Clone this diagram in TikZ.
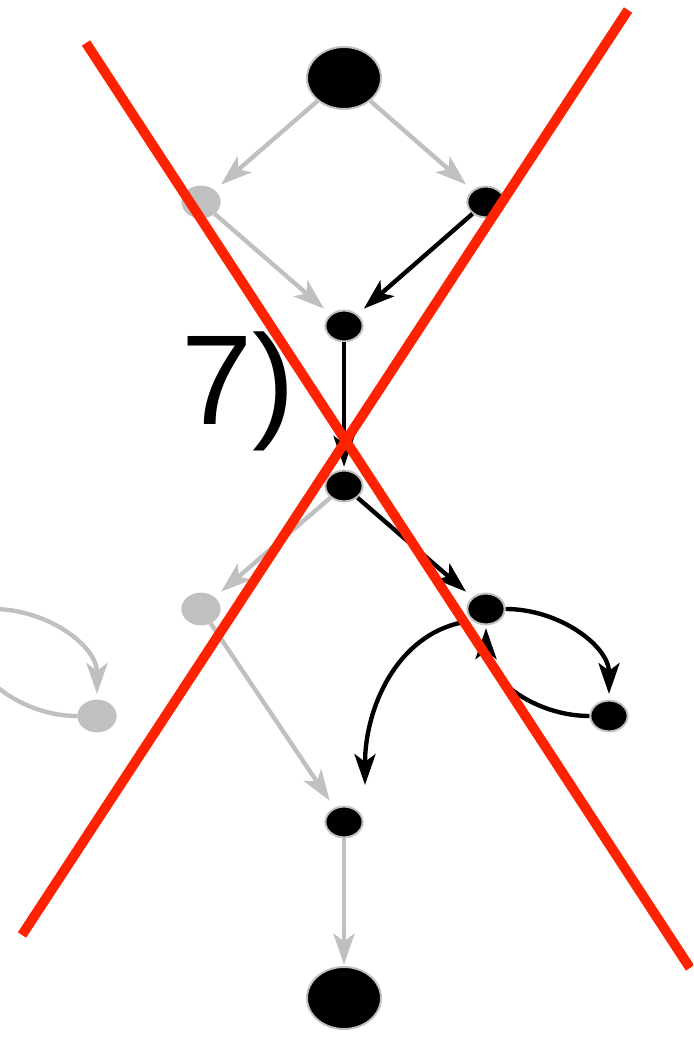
\documentclass[tikz,border=0pt]{standalone}
\usepackage{fontspec}
\setmainfont{Liberation Sans}
\usetikzlibrary{calc, positioning, arrows.meta, shapes.geometric}
\definecolor{dimgrey}{HTML}{C0C0C0}
\definecolor{crossred}{HTML}{FF2200}

\begin{document}
\begin{tikzpicture}[
    x=0.025cm, y=0.025cm,
    dot/.style={
      ellipse, draw=dimgrey, line width=1.4pt,
      fill=black, inner sep=0pt,
      minimum width=0.93cm, minimum height=0.77cm,
    },
    bigdot/.style={dot, minimum width=1.85cm, minimum height=1.55cm},
    ghost/.style={dot, fill=dimgrey},
    flow/.style={
      -{Stealth[length=22pt, width=15pt, inset=5.5pt]},
      line width=3.1pt, shorten >=4pt,
    },
    live/.style={flow, draw=black},
    faded/.style={flow, draw=dimgrey},
    cross/.style={draw=crossred, line width=7pt},
  ]
  \useasboundingbox (0,0) rectangle (693,1038);
  \clip (0,0) rectangle (693,1038);

  % nodes
  \node[bigdot] (top) at (344,960) {};
  \node[ghost] (l1) at (201,836) {};
  \node[dot] (r1) at (486,836) {};
  \node[dot] (m1) at (344,712) {};
  \node[dot] (m2) at (344,552) {};
  \node[ghost] (l2) at (201,429) {};
  \node[dot] (r2) at (486,429) {};
  \node[dot] (rr) at (609,322) {};
  \node[ghost] (ll) at (97,322) {};
  \node[dot] (m3) at (344,216) {};
  \node[bigdot] (bot) at (344,40) {};
  \coordinate (hid) at (-26,429);
  \coordinate (m3tip) at (365,253);

  \node[font=\fontsize{91}{100}\selectfont, anchor=base] (step7) at (238,613) {7)};

  % edges
  \draw[faded, shorten >=6pt] (top) -- (l1);
  \draw[faded, shorten >=6pt] (top) -- (r1);
  \draw[faded, shorten >=6pt] (l1) -- (m1);
  \draw[live, shorten >=6pt] (r1) -- (m1);
  \draw[live, shorten >=2pt] (m1) -- (m2);
  \draw[faded, shorten >=6pt] (m2) -- (l2);
  \draw[live, shorten >=6pt] (m2) -- (r2);
  \draw[faded, shorten >=6pt] (l2) -- (m3);
  \draw[faded, shorten >=1pt] (m3) -- (bot);

  \draw[live] (r2.east) to[out=0, in=90] (rr.north);
  \draw[live, shorten >=2pt] (rr.west) to[out=180, in=-90] (r2.south);
  \draw[live, shorten >=0pt, shorten <=5pt] (r2.south west) to[out=190, in=90] (m3tip);

  \draw[faded] ($(hid)+(19,0)$) to[out=0, in=90] (ll.north);
  \draw[faded, shorten >=2pt] (ll.west) to[out=180, in=-90] ($(hid)+(0,-15)$);

  % cross-out
  \coordinate (xa) at (86,995);
  \coordinate (xb) at (690,70);
  \coordinate (xc) at (628,1028);
  \coordinate (xd) at (22,103);
  \draw[cross] (xa) -- (xb);
  \draw[cross] (xc) -- (xd);
\end{tikzpicture}
\end{document}
